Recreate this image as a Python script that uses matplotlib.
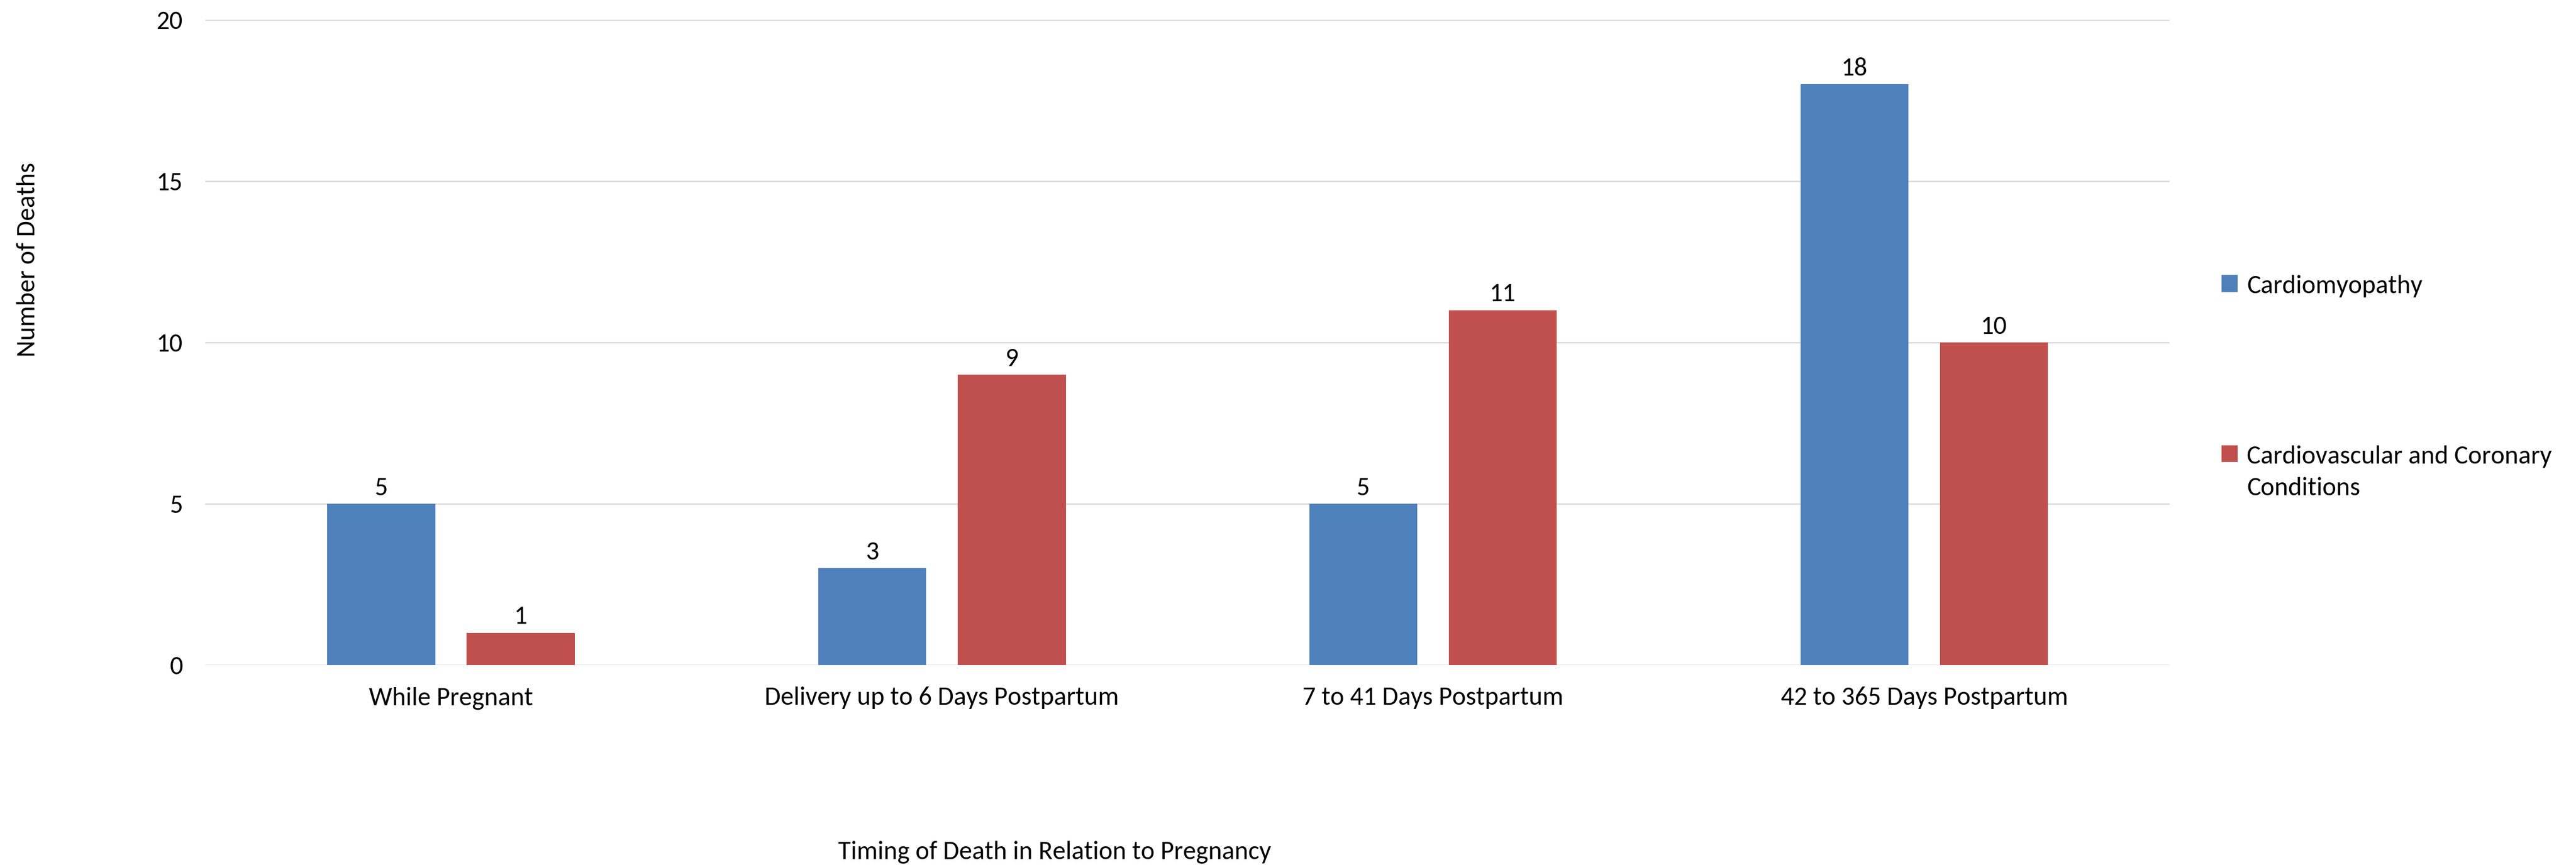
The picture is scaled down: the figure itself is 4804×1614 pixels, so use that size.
import numpy as np
import matplotlib
matplotlib.use("Agg")
import matplotlib.pyplot as plt

plt.rcParams['font.family'] = ['Carlito', 'Liberation Sans Narrow', 'Open Sans', 'DejaVu Sans']

periods = ['While Pregnant', 'Delivery up to 6 Days Postpartum',
           '7 to 41 Days Postpartum', '42 to 365 Days Postpartum']
cardiomyopathy = [5, 3, 5, 18]
cardiovascular = [1, 9, 11, 10]
series_names = ['Cardiomyopathy', 'Cardiovascular and Coronary\nConditions']
yticks = [0, 5, 10, 15, 20]

blue = '#4F81BD'
red = '#C0504D'
grid = '#D9D9D9'
fs = 35

fig = plt.figure(figsize=(48.04, 16.14), dpi=100)
ax = fig.add_axes([0.0797, 0.2311, 0.8423 - 0.0797, 0.9771 - 0.2311])

x = np.arange(len(periods))
w = 0.22
off = 0.142
b1 = ax.bar(x - off, cardiomyopathy, w, color=blue, label=series_names[0], zorder=3)
b2 = ax.bar(x + off, cardiovascular, w, color=red, label=series_names[1], zorder=3)
ax.bar_label(b1, padding=6, fontsize=fs)
ax.bar_label(b2, padding=6, fontsize=fs)

ax.set_xlim(-0.5, len(periods) - 0.5)
ax.set_ylim(0, 20)
ax.set_yticks(yticks)
ax.set_xticks(x)
ax.set_xticklabels(periods)
ax.tick_params(axis='both', length=0, labelsize=fs)
ax.tick_params(axis='y', pad=30)
ax.tick_params(axis='x', pad=29)
ax.yaxis.grid(True, color=grid, linewidth=1.8, zorder=0)
for s in ax.spines.values():
    s.set_visible(False)

fig.text(0.0108, 0.700, 'Number of Deaths', rotation=90, ha='center', va='center', fontsize=fs)
fig.text(0.4094, 0.0149, 'Timing of Death in Relation to Pregnancy', ha='center', va='center', fontsize=fs)

leg = fig.legend(loc='upper left', bbox_to_anchor=(0.8624, 0.6821), frameon=False, fontsize=fs,
                 handlelength=0.62, handleheight=0.62, handletextpad=0.35, labelspacing=5.67,
                 borderaxespad=0, borderpad=0)
for t in leg.get_texts():
    t.set_linespacing(1.5)
# keep each swatch level with the first line of its label
for col in leg._legend_handle_box.get_children():
    for row in col.get_children():
        row.align = 'top'

fig.savefig('out.png', dpi=100, facecolor='white')
